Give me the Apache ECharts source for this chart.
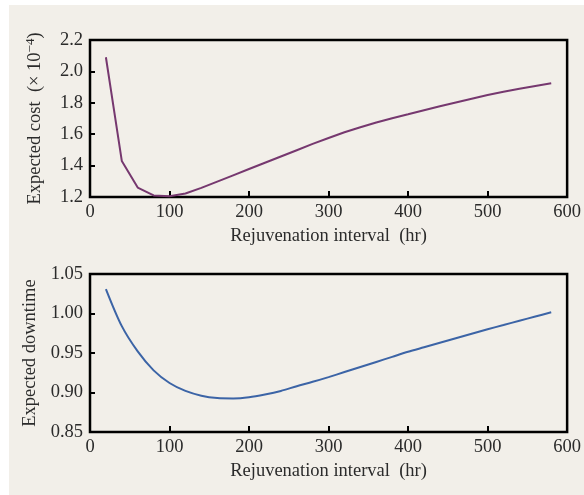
<!DOCTYPE html>
<html>
<head>
<meta charset="utf-8">
<script src="https://cdn.jsdelivr.net/npm/echarts@6/dist/echarts.min.js"></script>
<style>
  html, body { margin: 0; padding: 0; background: #ffffff; }
  #panel { position: absolute; left: 9px; top: 5px; width: 575px; height: 490px; background: #f2efe9; }
  #chart { position: absolute; left: 0; top: 0; width: 584px; height: 495px; }
</style>
</head>
<body>
<div id="panel"></div>
<div id="chart"></div>
<script>
// rejuvenation interval (hr)
const intervals = [20, 40, 60, 80, 100, 120, 140, 160, 180, 200, 220, 240, 260, 280, 300,
  320, 340, 360, 380, 400, 420, 440, 460, 480, 500, 520, 540, 560, 580];
// expected cost (x 10^-4)
const costValues = [2.09, 1.43, 1.26, 1.21, 1.205, 1.222, 1.258, 1.298, 1.338, 1.378, 1.418, 1.458, 1.498, 1.538, 1.576,
  1.612, 1.644, 1.674, 1.702, 1.727, 1.753, 1.778, 1.802, 1.826, 1.85, 1.87, 1.889, 1.907, 1.924];
// expected downtime
const downtimeValues = [1.031, 0.984, 0.952, 0.928, 0.912, 0.902, 0.896, 0.893, 0.8925, 0.894, 0.8975, 0.902, 0.908, 0.9135, 0.9195,
  0.9259, 0.9323, 0.9387, 0.9451, 0.9515, 0.9572, 0.9629, 0.9686, 0.9743, 0.980, 0.9854, 0.9908, 0.9962, 1.0015];

const costTicks = [1.2, 1.4, 1.6, 1.8, 2.0, 2.2];
const downtimeTicks = [0.85, 0.90, 0.95, 1.00, 1.05];

const chart = echarts.init(document.getElementById('chart'));
const font = 'Liberation Serif';
const fs = 18.5;
const txt = '#2b2b2b';

function xAxisFor(gridIndex) {
  return {
    type: 'value', gridIndex: gridIndex, min: 0, max: 600, interval: 100,
    name: 'Rejuvenation interval  (hr)', nameLocation: 'middle', nameGap: 30,
    nameTextStyle: { fontFamily: font, fontSize: fs, color: txt },
    axisLine: { show: false },
    axisTick: { inside: true, length: 6, lineStyle: { color: '#000', width: 2 } },
    axisLabel: { fontFamily: font, fontSize: fs, color: txt, margin: 6 },
    splitLine: { show: false }
  };
}

const option = {
  animation: false,
  backgroundColor: 'transparent',
  grid: [
    { left: 90, right: 16, top: 40, height: 157, show: true, borderColor: '#000', borderWidth: 2.5, backgroundColor: 'transparent' },
    { left: 90, right: 16, top: 274, height: 158, show: true, borderColor: '#000', borderWidth: 2.5, backgroundColor: 'transparent' }
  ],
  xAxis: [xAxisFor(0), xAxisFor(1)],
  yAxis: [
    {
      type: 'value', gridIndex: 0, min: 1.2, max: 2.2, interval: 0.2,
      name: '{a|Expected cost  (× 10}{s|−4}{a|)}', nameLocation: 'middle', nameGap: 44,
      nameTextStyle: {
        fontFamily: font, fontSize: fs, color: txt,
        rich: {
          a: { fontFamily: font, fontSize: fs, color: txt },
          s: { fontFamily: font, fontSize: 13, color: txt, verticalAlign: 'top', padding: [0, 0, 9, 0] }
        }
      },
      axisLine: { show: false },
      axisTick: { inside: true, length: 5, lineStyle: { color: '#000', width: 2 } },
      axisLabel: { fontFamily: font, fontSize: fs, color: txt, margin: 7,
        formatter: v => costTicks.find(t => Math.abs(t - v) < 1e-6).toFixed(1) },
      splitLine: { show: false }
    },
    {
      type: 'value', gridIndex: 1, min: 0.85, max: 1.05, interval: 0.05,
      name: 'Expected downtime', nameLocation: 'middle', nameGap: 44,
      nameTextStyle: { fontFamily: font, fontSize: fs, color: txt },
      axisLine: { show: false },
      axisTick: { inside: true, length: 5, lineStyle: { color: '#000', width: 2 } },
      axisLabel: { fontFamily: font, fontSize: fs, color: txt, margin: 7,
        formatter: v => downtimeTicks.find(t => Math.abs(t - v) < 1e-6).toFixed(2) },
      splitLine: { show: false }
    }
  ],
  series: [
    {
      type: 'line', xAxisIndex: 0, yAxisIndex: 0, showSymbol: false,
      data: intervals.map((x, i) => [x, costValues[i]]),
      lineStyle: { color: '#76386f', width: 2 }
    },
    {
      type: 'line', xAxisIndex: 1, yAxisIndex: 1, showSymbol: false, smooth: 0.3,
      data: intervals.map((x, i) => [x, downtimeValues[i]]),
      lineStyle: { color: '#3c64a6', width: 2 }
    }
  ]
};
chart.setOption(option);
</script>
</body>
</html>
